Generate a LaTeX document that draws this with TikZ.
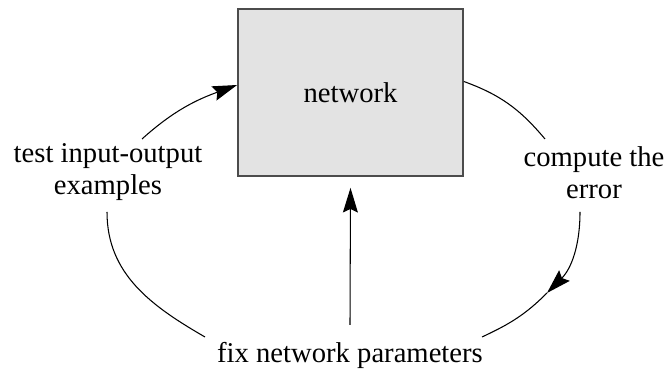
\documentclass[tikz,border=0pt]{standalone}
\usepackage{fontspec}
\setmainfont{Liberation Serif}
\usetikzlibrary{arrows.meta}
\begin{document}
\begin{tikzpicture}[font=\rmfamily\fontsize{16.3}{18}\selectfont,
  loop/.style={line width=0.6pt},
  tip/.style={-{Stealth[length=14pt,width=8.5pt,inset=2pt]}}]
\useasboundingbox (0,0) rectangle (13.38,7.48);
\node[draw=black!70,line width=1pt,fill=black!11,minimum width=4.5cm,minimum height=3.34cm] (net) at (7.01,5.63) {network};
\node[align=center] (test) at (2.16,4.04) {test input-output\\examples};
\node[align=center] (err) at (11.88,4.02) {compute the\\error};
\node (fix) at (7.0,0.38) {fix network parameters};
\coordinate (t1) at (2.84,4.70);
\coordinate (t2) at (2.14,3.24);
\coordinate (e1) at (10.90,4.70);
\coordinate (e2) at (11.60,3.24);
\coordinate (e3) at (10.94,1.62);
\coordinate (f1) at (4.10,0.74);
\coordinate (f2) at (9.64,0.74);
\coordinate (f3) at (7.0,0.98);
\draw[loop,tip] (t1) to[out=42,in=200] ([yshift=0.15cm]net.west);
\draw[loop] (t2) to[out=-90,in=150] (f1);
\draw[loop] ([yshift=0.22cm]net.east) to[out=-20,in=130] (e1);
\draw[loop,tip] (e2) to[out=-90,in=45] (e3);
\draw[loop] (e3) to[out=225,in=25] (f2);
\draw[loop,tip] (f3) -- ([yshift=-0.22cm]net.south);
\end{tikzpicture}
\end{document}
